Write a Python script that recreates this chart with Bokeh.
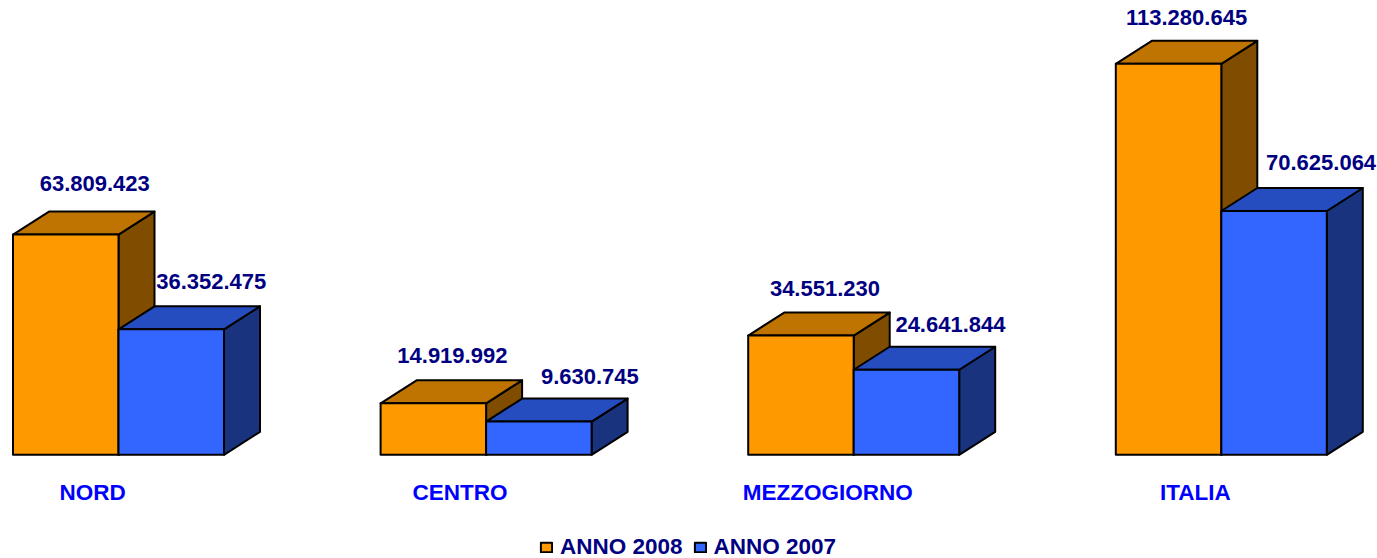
from bokeh.plotting import figure
from bokeh.models import ColumnDataSource, Legend, LegendItem, Range1d
from bokeh.core.properties import value
from bokeh.embed import file_html
from bokeh.resources import INLINE

categories = ["NORD", "CENTRO", "MEZZOGIORNO", "ITALIA"]
anno_2008 = [63809423, 14919992, 34551230, 113280645]
anno_2007 = [36352475, 9630745, 24641844, 70625064]
labels_2008 = ["63.809.423", "14.919.992", "34.551.230", "113.280.645"]
labels_2007 = ["36.352.475", "9.630.745", "24.641.844", "70.625.064"]

# layout constants (pixels)
OX, OY, W, H = 0, 0, 1377, 558
BASE_X, BASE_Y = 92.0, 454.3
PITCH = 367.6
PX_PER_VALUE = (455 - 64) / 113280645
BAR_W = 105.5 / PITCH
BAR_OFF = -79.5 / PITCH
DX = 36 / PITCH
DY = 23 / PX_PER_VALUE
off_2008 = [(29, -51), (19, -48), (24, -47), (18, -46)]
off_2007 = [(40, -48), (51, -45), (44, -45), (47, -49)]

FONT = value("Liberation Sans")

p = figure(width=W, height=H, output_backend="svg", toolbar_location=None,
           x_range=Range1d((OX - BASE_X) / PITCH, (OX + W - BASE_X) / PITCH),
           y_range=Range1d((BASE_Y - OY - H) / PX_PER_VALUE, (BASE_Y - OY) / PX_PER_VALUE),
           min_border=0, outline_line_color=None,
           background_fill_color="white", border_fill_color="white")
p.grid.visible = False
p.axis.visible = False


def series(vals, labels, offs, shift, front, top, side):
    lefts = [i + BAR_OFF + shift for i in range(len(vals))]
    rights = [l + BAR_W for l in lefts]
    top_xs = [[l, r, r + DX, l + DX] for l, r in zip(lefts, rights)]
    top_ys = [[v, v, v + DY, v + DY] for v in vals]
    side_xs = [[r, r + DX, r + DX, r] for r in rights]
    side_ys = [[0, DY, v + DY, v] for v in vals]
    kw = dict(line_color="black", line_width=2, line_join="round")
    p.patches(side_xs, side_ys, fill_color=side, **kw)
    p.patches(top_xs, top_ys, fill_color=top, **kw)
    r = p.quad(left=lefts, right=rights, bottom=0, top=vals, fill_color=front, **kw)
    src = ColumnDataSource(dict(
        x=[(l + rr) / 2 for l, rr in zip(lefts, rights)], y=vals, t=labels,
        dx=[o[0] for o in offs], dy=[o[1] for o in offs]))
    p.text("x", "y", text="t", x_offset="dx", y_offset="dy", source=src,
           text_align="center", text_baseline="middle", text_color="#000080",
           text_font=FONT, text_font_size="22px", text_font_style="bold")
    return r


r08 = series(anno_2008, labels_2008, off_2008, 0, "#FF9900", "#BF7300", "#804D00")
r07 = series(anno_2007, labels_2007, off_2007, BAR_W, "#3366FF", "#264DBF", "#19337F")

cat_src = ColumnDataSource(dict(x=list(range(len(categories))), y=[0] * len(categories), t=categories))
p.text("x", "y", text="t", y_offset=38, source=cat_src, text_align="center",
       text_baseline="middle", text_color="#0000FF", text_font=FONT,
       text_font_size="22.5px", text_font_style="bold")

legend = Legend(items=[LegendItem(label="ANNO 2008", renderers=[r08]),
                       LegendItem(label="ANNO 2007", renderers=[r07])],
                orientation="horizontal", location=(539 - OX, OY + H - 560),
                border_line_color=None, background_fill_alpha=0,
                label_text_font="Liberation Sans", label_text_font_size="22.5px",
                label_text_font_style="bold", label_text_color="#000080",
                glyph_width=14, glyph_height=12, label_standoff=7, spacing=10,
                padding=0, margin=0)
p.add_layout(legend)

open("out.html", "w").write(file_html(p, INLINE))
